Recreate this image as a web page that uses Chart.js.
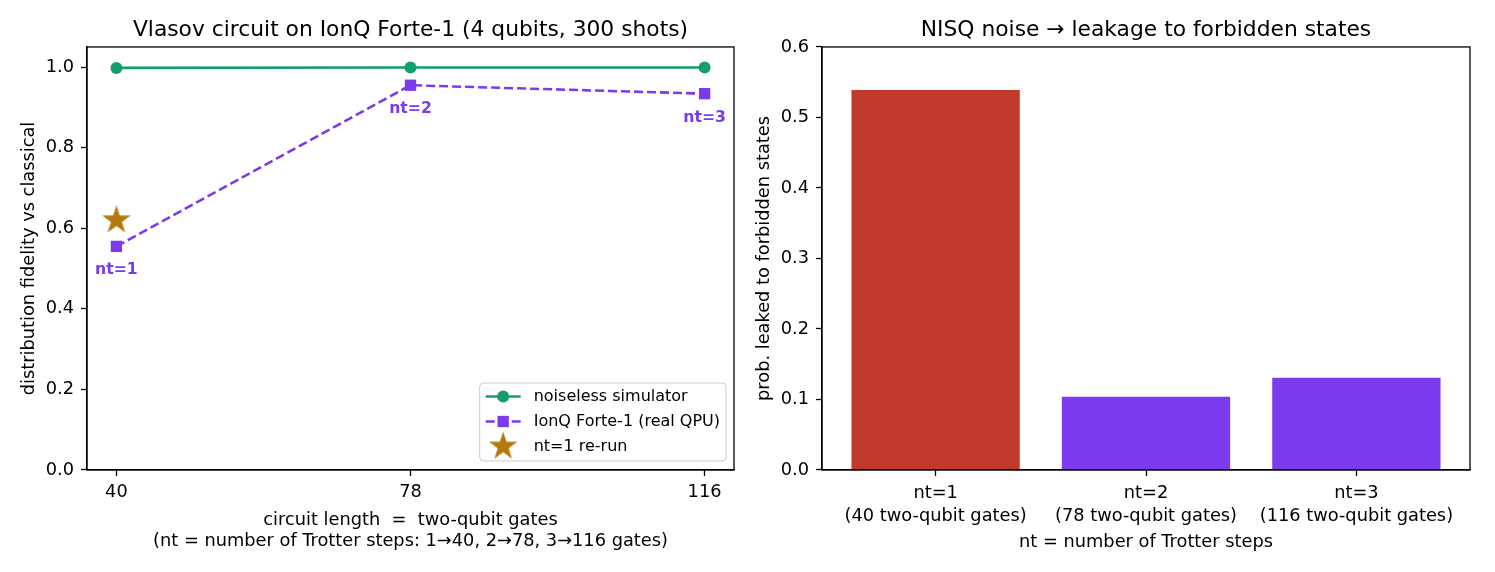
<!DOCTYPE html>
<html><head><meta charset="utf-8">
<script src="https://cdn.jsdelivr.net/npm/chart.js@4.4.1/dist/chart.umd.min.js"></script>
<style>
html,body{margin:0;padding:0;background:#fff;}
#wrap{position:relative;width:1495px;height:572px;overflow:hidden;background:#fff;}
canvas{position:absolute;top:0;}
#c1{left:0;} #c2{left:750px;}
</style></head><body>
<div id="wrap"><canvas id="c1" width="750" height="572"></canvas><canvas id="c2" width="745" height="572"></canvas></div>
<script>
// ---- data ----
const gates = [40, 78, 116];
const ntLabels = ['nt=1', 'nt=2', 'nt=3'];
const noiseless = [0.998, 0.999, 0.999];
const ionq = [0.555, 0.955, 0.934];
const rerunGates = [40];
const rerun = [0.62];
const fidelityTicks = [0.0, 0.2, 0.4, 0.6, 0.8, 1.0];
const leakage = [0.539, 0.104, 0.131];
const leakageTicks = [0.0, 0.1, 0.2, 0.3, 0.4, 0.5, 0.6];
const barCategories = ntLabels.map((n, i) => [n, '(' + gates[i] + ' two-qubit gates)']);

// ---- styles ----
const FONT = "'DejaVu Sans', sans-serif";
const GREEN = '#139d72';
const PURPLE = '#7c3aed';
const RED = '#c0392b';
const GOLD = '#b5780d';
const barColors = [RED, PURPLE, PURPLE];
Chart.defaults.font.family = FONT;
Chart.defaults.color = '#000';

function makeStar(R, color) {
  const s = Math.ceil(2 * R + 2);
  const c = document.createElement('canvas');
  c.width = c.height = s;
  const g = c.getContext('2d');
  const r = R * 0.382;
  g.beginPath();
  for (let k = 0; k < 10; k++) {
    const a = -Math.PI / 2 + k * Math.PI / 5;
    const rad = k % 2 ? r : R;
    g.lineTo(s / 2 + rad * Math.cos(a), s / 2 + rad * Math.sin(a));
  }
  g.closePath();
  g.fillStyle = color;
  g.fill();
  return c;
}
const starImg = makeStar(15, GOLD);

const axisGrid = {display: true, drawOnChartArea: false, drawTicks: true, tickLength: 6, tickWidth: 1.3, tickColor: '#000', color: '#000'};
const axisBorder = {display: true, color: '#000', width: 1.3};

const framePlugin = {
  id: 'frame',
  afterDatasetsDraw(chart) {
    const {ctx, chartArea: a} = chart;
    ctx.save();
    ctx.strokeStyle = '#000';
    ctx.lineWidth = 1.3;
    ctx.strokeRect(a.left, a.top, a.right - a.left, a.bottom - a.top);
    ctx.restore();
  }
};

const annotatePlugin = {
  id: 'ntAnnotate',
  afterDatasetsDraw(chart) {
    const {ctx} = chart;
    const meta = chart.getDatasetMeta(1);
    ctx.save();
    ctx.font = 'bold 15.7px ' + FONT;
    ctx.fillStyle = PURPLE;
    ctx.textAlign = 'center';
    ctx.textBaseline = 'middle';
    meta.data.forEach((pt, i) => ctx.fillText(ntLabels[i], pt.x, pt.y + 24));
    ctx.restore();
  }
};

const legendPlugin = {
  id: 'boxLegend',
  afterDraw(chart) {
    const {ctx, chartArea: a} = chart;
    const f = 16;
    ctx.save();
    ctx.font = f + 'px ' + FONT;
    const labels = chart.data.datasets.map(d => d.label);
    const tw = Math.max(...labels.map(t => ctx.measureText(t).width));
    const w = 54 + tw + 6, h = 78;
    const x0 = a.right - 8 - w, y0 = a.bottom - 9 - h;
    ctx.beginPath();
    ctx.roundRect(x0, y0, w, h, 4);
    ctx.fillStyle = 'rgba(255,255,255,0.8)';
    ctx.fill();
    ctx.strokeStyle = '#cccccc';
    ctx.lineWidth = 1;
    ctx.stroke();
    const ds = chart.data.datasets;
    labels.forEach((t, i) => {
      const cy = y0 + 13.5 + i * 25;
      const hx = x0 + 23.5;
      if (i < 2) {
        ctx.beginPath();
        ctx.setLineDash(ds[i].borderDash || []);
        ctx.strokeStyle = ds[i].borderColor;
        ctx.lineWidth = ds[i].borderWidth;
        ctx.moveTo(x0 + 6, cy);
        ctx.lineTo(x0 + 41, cy);
        ctx.stroke();
        ctx.setLineDash([]);
        ctx.fillStyle = ds[i].backgroundColor;
        if (i === 0) {
          ctx.beginPath();
          ctx.arc(hx, cy, ds[i].pointRadius, 0, Math.PI * 2);
          ctx.fill();
        } else {
          const s = ds[i].pointRadius * Math.SQRT1_2;
          ctx.fillRect(hx - s, cy - s, 2 * s, 2 * s);
        }
      } else {
        ctx.drawImage(starImg, hx - starImg.width / 2, cy - starImg.height / 2);
      }
      ctx.fillStyle = '#000';
      ctx.textAlign = 'left';
      ctx.textBaseline = 'middle';
      ctx.fillText(t, x0 + 54, cy);
    });
    ctx.restore();
  }
};

// ---- left chart ----
new Chart(document.getElementById('c1'), {
  type: 'line',
  data: {
    datasets: [
      {label: 'noiseless simulator', data: gates.map((g, i) => ({x: g, y: noiseless[i]})),
       borderColor: GREEN, backgroundColor: GREEN, borderWidth: 2.6,
       pointStyle: 'circle', pointRadius: 6, pointBorderWidth: 0, pointHoverRadius: 6},
      {label: 'IonQ Forte-1 (real QPU)', data: gates.map((g, i) => ({x: g, y: ionq[i]})),
       borderColor: PURPLE, backgroundColor: PURPLE, borderWidth: 2.6, borderDash: [9, 4],
       pointStyle: 'rect', pointRadius: 8, pointBorderWidth: 0, pointHoverRadius: 8},
      {label: 'nt=1 re-run', data: rerunGates.map((g, i) => ({x: g, y: rerun[i]})),
       showLine: false, borderColor: GOLD, backgroundColor: GOLD,
       pointStyle: starImg, pointRadius: 15}
    ]
  },
  options: {
    responsive: false, animation: false, events: [],
    layout: {padding: {left: 0, right: 15, top: 0, bottom: 0}},
    plugins: {
      legend: {display: false}, tooltip: {enabled: false},
      title: {display: true, fullSize: false, text: 'Vlasov circuit on IonQ Forte-1 (4 qubits, 300 shots)',
              color: '#000', font: {size: 21.8, weight: 'normal', lineHeight: 1.2}, padding: {top: 17, bottom: 3.8}}
    },
    scales: {
      x: {
        type: 'linear', min: 36.2, max: 119.8,
        afterBuildTicks: s => { s.ticks = gates.map(v => ({value: v})); },
        afterFit: s => { s.height = 102; },
        ticks: {font: {size: 17.8}, color: '#000', padding: 5.8, maxRotation: 0, callback: v => String(v)},
        grid: axisGrid, border: axisBorder,
        title: {display: true, text: ['circuit length  =  two-qubit gates', '(nt = number of Trotter steps: 1\u219240, 2\u219278, 3\u2192116 gates)'],
                font: {size: 17.8, lineHeight: 1.18}, color: '#000', padding: {top: 0, bottom: 20.5}}
      },
      y: {
        type: 'linear', min: 0, max: 1.05,
        afterBuildTicks: s => { s.ticks = fidelityTicks.map(v => ({value: v})); },
        afterFit: s => { s.width = 87; },
        ticks: {font: {size: 17.8}, color: '#000', padding: 7, callback: v => v.toFixed(1)},
        grid: axisGrid, border: axisBorder,
        title: {display: true, text: 'distribution fidelity vs classical', font: {size: 17.8, lineHeight: 1.2}, color: '#000', padding: {top: 19.2, bottom: 0}}
      }
    }
  },
  plugins: [framePlugin, annotatePlugin, legendPlugin]
});

// ---- right chart ----
new Chart(document.getElementById('c2'), {
  type: 'bar',
  data: {
    datasets: [{label: 'leakage', data: leakage.map((v, i) => ({x: i, y: v})),
                backgroundColor: barColors, borderWidth: 0, categoryPercentage: 1, barPercentage: 0.8}]
  },
  options: {
    responsive: false, animation: false, events: [],
    layout: {padding: {left: 0, right: 25, top: 0, bottom: 0}},
    plugins: {
      legend: {display: false}, tooltip: {enabled: false},
      title: {display: true, fullSize: false, text: 'NISQ noise \u2192 leakage to forbidden states',
              color: '#000', font: {size: 21.8, weight: 'normal', lineHeight: 1.2}, padding: {top: 17, bottom: 3.8}}
    },
    scales: {
      x: {
        type: 'linear', min: -0.54, max: 2.54, offset: false,
        afterBuildTicks: s => { s.ticks = barCategories.map((c, i) => ({value: i})); },
        afterFit: s => { s.height = 102; },
        ticks: {font: {size: 17.8, lineHeight: 1.29}, color: '#000', padding: 5.5, maxRotation: 0, autoSkip: false,
                callback: (v, i) => barCategories[i]},
        grid: Object.assign({offset: false}, axisGrid), border: axisBorder,
        title: {display: true, text: 'nt = number of Trotter steps', font: {size: 17.8, lineHeight: 1.2}, color: '#000', padding: {top: 0, bottom: 18.8}}
      },
      y: {
        type: 'linear', min: 0, max: 0.6,
        afterBuildTicks: s => { s.ticks = leakageTicks.map(v => ({value: v})); },
        afterFit: s => { s.width = 72; },
        ticks: {font: {size: 17.8}, color: '#000', padding: 7, callback: v => v.toFixed(1)},
        grid: axisGrid, border: axisBorder,
        title: {display: true, text: 'prob. leaked to forbidden states', font: {size: 17.8, lineHeight: 1.2}, color: '#000', padding: {top: 4.2, bottom: 0}}
      }
    }
  },
  plugins: [framePlugin]
});
</script>
</body></html>
